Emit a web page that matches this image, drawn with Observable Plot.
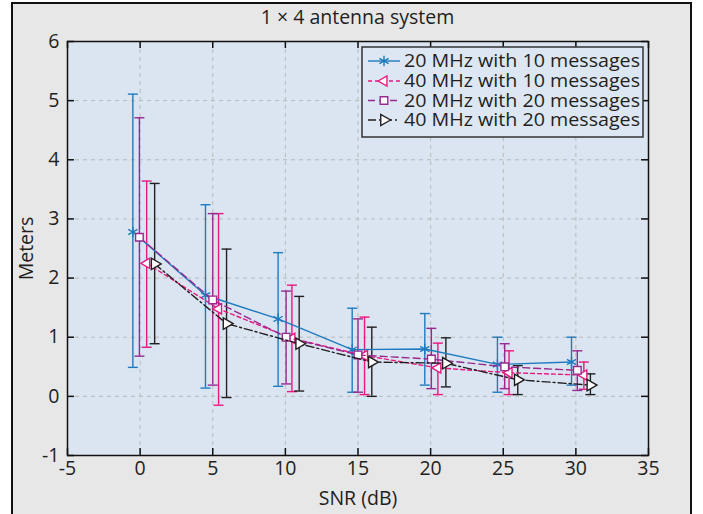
<!DOCTYPE html>
<html><head><meta charset="utf-8">
<script src="https://cdn.jsdelivr.net/npm/d3@7"></script>
<script src="https://cdn.jsdelivr.net/npm/@observablehq/plot@0.6"></script>
<style>
html,body{margin:0;padding:0;background:#fff;}
body{width:703px;height:514px;overflow:hidden;position:relative;font-family:"Open Sans",sans-serif;color:#231f20;}
#panel{position:absolute;left:11px;top:2px;width:677px;height:530px;background:#e7e7e7;border:2px solid #111;}
#title{position:absolute;left:67px;width:581px;top:4px;text-align:center;font-size:19.5px;line-height:26px;color:#231f20;}
#chart{position:absolute;left:0;top:0;}
#legend{position:absolute;left:0;top:0;}
</style></head><body>
<div id="panel"></div>
<div id="title">1 × 4 antenna system</div>
<div id="chart"></div>
<svg id="legend" width="703" height="514"></svg>
<script>
// ---- data ----
const xTicks = [-5, 0, 5, 10, 15, 20, 25, 30, 35];
const yTicks = [-1, 0, 1, 2, 3, 4, 5, 6];
const seriesNames = ["20 MHz with 10 messages", "40 MHz with 10 messages", "20 MHz with 20 messages", "40 MHz with 20 messages"];

const blueX    = [-0.5, 4.5, 9.5, 14.6, 19.6, 24.6, 29.7];
const blueMean = [2.78, 1.71, 1.31, 0.79, 0.80, 0.54, 0.58];
const blueLow  = [0.49, 0.14, 0.17, 0.07, 0.19, 0.07, 0.19];
const blueHigh = [5.11, 3.24, 2.43, 1.49, 1.40, 1.00, 1.00];

const pinkX    = [0.45, 5.4, 10.45, 15.45, 20.5, 25.4, 30.55];
const pinkMean = [2.25, 1.48, 0.98, 0.69, 0.48, 0.40, 0.36];
const pinkLow  = [0.83, -0.15, 0.08, 0.03, 0.03, 0.03, 0.12];
const pinkHigh = [3.64, 3.09, 1.88, 1.34, 0.90, 0.77, 0.58];

const purpleX    = [-0.05, 5.0, 10.05, 15.0, 20.05, 25.1, 30.1];
const purpleMean = [2.69, 1.63, 1.00, 0.70, 0.63, 0.50, 0.44];
const purpleLow  = [0.68, 0.19, 0.21, 0.07, 0.13, 0.13, 0.10];
const purpleHigh = [4.71, 3.09, 1.78, 1.31, 1.15, 0.89, 0.77];

const blackX    = [1.0, 5.95, 10.95, 15.95, 21.05, 26.0, 31.0];
const blackMean = [2.24, 1.23, 0.89, 0.58, 0.56, 0.28, 0.19];
const blackLow  = [0.89, -0.02, 0.09, 0.00, 0.16, 0.03, 0.03];
const blackHigh = [3.60, 2.49, 1.69, 1.17, 0.99, 0.52, 0.38];

// ---- styles ----
const styles = [
  {name: seriesNames[0], color: "#1f7bbf", dash: null, symbol: "asterisk", rotate: 0, r: 5, fill: "none", X: blueX, M: blueMean, L: blueLow, H: blueHigh},
  {name: seriesNames[1], color: "#e8197f", dash: "4,3", symbol: "triangle", rotate: -90, r: 3.8, fill: "#fff", X: pinkX, M: pinkMean, L: pinkLow, H: pinkHigh},
  {name: seriesNames[2], color: "#962a8f", dash: "7,4", symbol: "square", rotate: 0, r: 4.3, fill: "#fff", X: purpleX, M: purpleMean, L: purpleLow, H: purpleHigh},
  {name: seriesNames[3], color: "#231f20", dash: "8,3,2,3", symbol: "triangle", rotate: 90, r: 4.2, fill: "#fff", X: blackX, M: blackMean, L: blackLow, H: blackHigh}
];

const capSymbol = {draw(ctx, size) { const r = Math.sqrt(size / Math.PI); ctx.moveTo(-r, 0); ctx.lineTo(r, 0); }};

const W = 703, H = 514, mL = 67, mR = 55, mT = 41, mB = 59;
const pw = W - mL - mR, ph = H - mT - mB;
const FS = 19.5;

const marks = [
  Plot.frame({fill: "#dbe5f1", stroke: null}),
  Plot.gridX(xTicks, {stroke: "#b9b9b9", strokeOpacity: 1, strokeDasharray: "4,4"}),
  Plot.gridY(yTicks, {stroke: "#b9b9b9", strokeOpacity: 1, strokeDasharray: "4,4"}),
];
for (const s of styles) {
  const rows = s.X.map((x, i) => ({x, m: s.M[i], lo: s.L[i], hi: s.H[i]}));
  marks.push(
    Plot.ruleX(rows, {x: "x", y1: "lo", y2: "hi", stroke: s.color, strokeWidth: 1.4}),
    Plot.dot(rows, {x: "x", y: "lo", symbol: capSymbol, r: 5, stroke: s.color, strokeWidth: 1.4}),
    Plot.dot(rows, {x: "x", y: "hi", symbol: capSymbol, r: 5, stroke: s.color, strokeWidth: 1.4})
  );
}
for (const s of styles) {
  const rows = s.X.map((x, i) => ({x, m: s.M[i]}));
  marks.push(
    Plot.line(rows, {x: "x", y: "m", stroke: s.color, strokeWidth: 1.4, strokeDasharray: s.dash}),
    Plot.dot(rows, {x: "x", y: "m", symbol: s.symbol, rotate: s.rotate, r: s.r, stroke: s.color, fill: s.fill, strokeWidth: 1.4})
  );
}
marks.push(
  Plot.tickX(xTicks, {x: d => d, insetTop: ph - 7, stroke: "#111", strokeWidth: 1.5}),
  Plot.tickX(xTicks, {x: d => d, insetBottom: ph - 7, stroke: "#111", strokeWidth: 1.5}),
  Plot.tickY(yTicks, {y: d => d, insetRight: pw - 7, stroke: "#111", strokeWidth: 1.5}),
  Plot.tickY(yTicks, {y: d => d, insetLeft: pw - 7, stroke: "#111", strokeWidth: 1.5}),
  Plot.frame({stroke: "#111", strokeWidth: 1.5}),
  Plot.axisX(xTicks, {tickSize: 0, tickPadding: 6, tickFormat: d => String(d), label: "SNR (dB)", labelAnchor: "center", labelArrow: "none", labelOffset: 49, fontSize: FS}),
  Plot.axisY(yTicks, {tickSize: 0, tickPadding: 8, tickFormat: d => String(d), label: "Meters", labelAnchor: "center", labelArrow: "none", labelOffset: 48, fontSize: FS})
);

const chart = Plot.plot({
  width: W, height: H, marginLeft: mL, marginRight: mR, marginTop: mT, marginBottom: mB,
  style: {background: "transparent", fontFamily: "'Open Sans', sans-serif", fontSize: FS + "px", color: "#231f20"},
  x: {domain: [-5, 35], label: "SNR (dB)"},
  y: {domain: [-1, 6], label: "Meters"},
  marks
});
document.getElementById("chart").appendChild(chart);

// ---- legend ----
const lg = d3.select("#legend");
const box = {x: 362, y: 47, w: 281, h: 90};
lg.append("rect").attr("x", box.x).attr("y", box.y).attr("width", box.w).attr("height", box.h)
  .attr("fill", "#dde7f3").attr("stroke", "#333").attr("stroke-width", 1.5);
const rowY = [61, 81, 100.5, 120];
const symMap = {asterisk: d3.symbolAsterisk, triangle: d3.symbolTriangle, square: d3.symbolSquare};
styles.forEach((s, i) => {
  const g = lg.append("g");
  g.append("line").attr("x1", 368).attr("x2", 400).attr("y1", rowY[i]).attr("y2", rowY[i])
    .attr("stroke", s.color).attr("stroke-width", 1.4).attr("stroke-dasharray", s.dash || null);
  g.append("path").attr("d", d3.symbol(symMap[s.symbol], s.r * s.r * Math.PI)())
    .attr("transform", `translate(384,${rowY[i]}) rotate(${s.rotate})`)
    .attr("stroke", s.color).attr("fill", s.fill).attr("stroke-width", 1.4);
  g.append("text").attr("x", 404).attr("y", rowY[i]).attr("dy", "0.35em")
    .attr("font-size", 18.5).attr("font-family", "'Open Sans', sans-serif").attr("fill", "#231f20")
    .attr("textLength", 236).attr("lengthAdjust", "spacingAndGlyphs")
    .text(s.name);
});
</script>
</body></html>
